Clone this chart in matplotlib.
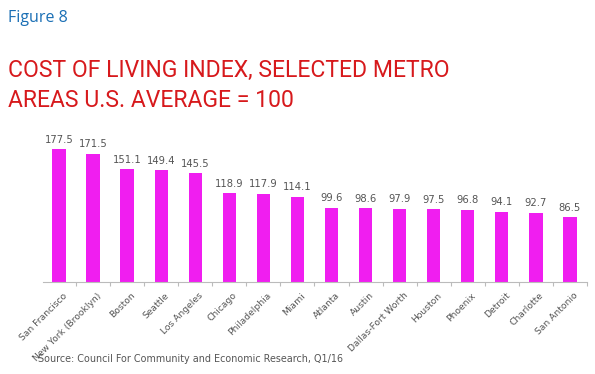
import matplotlib
matplotlib.use("Agg")
import matplotlib.pyplot as plt
import numpy as np

cities = ["San Francisco", "New York (Brooklyn)", "Boston", "Seattle", "Los Angeles",
          "Chicago", "Philadelphia", "Miami", "Atlanta", "Austin", "Dallas-Fort Worth",
          "Houston", "Phoenix", "Detroit", "Charlotte", "San Antonio"]
values = [177.5, 171.5, 151.1, 149.4, 145.5, 118.9, 117.9, 114.1, 99.6, 98.6, 97.9,
          97.5, 96.8, 94.1, 92.7, 86.5]

fig = plt.figure(figsize=(5.95, 3.74), dpi=100)
W, H = 595, 374
ax = fig.add_axes([43 / W, 1 - 282 / H, (587 - 43) / W, (282 - 130) / H])
x = np.arange(len(cities))
ax.bar(x, values, width=0.39, color="#F01EF0", zorder=2)
ax.set_xlim(-0.47, 15.5)
ax.set_ylim(0, 177.5 * 152 / 132.7)
for xi, v in zip(x, values):
    ax.text(xi, v + 6, f"{v:.1f}", ha="center", va="bottom", fontsize=7.2,
            color="#555555")
for s in ["top", "right", "left"]:
    ax.spines[s].set_visible(False)
ax.spines["bottom"].set_color("#BBBBBB")
ax.spines["bottom"].set_linewidth(0.8)
ax.set_yticks([])
ax.set_xticks(x + 0.5)
ax.set_xticklabels([])
ax.tick_params(axis="x", length=3, color="#BBBBBB", width=0.8)
for xi, c in zip(x, cities):
    ax.text(xi + 0.1, -12, c, rotation=45, ha="right", va="top", fontsize=6.6,
            color="#555555", rotation_mode="anchor")

fig.text(8 / W, 1 - 22 / H, "Figure 8", fontsize=11.5, color="#1A6FB5",
         family="Open Sans", va="baseline")
fig.text(8 / W, 1 - 77 / H, "COST OF LIVING INDEX, SELECTED METRO", fontsize=16.6,
         color="#D7191C", family="Roboto", va="baseline")
fig.text(8 / W, 1 - 107 / H, "AREAS U.S. AVERAGE = 100", fontsize=16.6,
         color="#D7191C", family="Roboto", va="baseline")
fig.text(38 / W, 1 - 362 / H, "Source: Council For Community and Economic Research, Q1/16",
         fontsize=6.95, color="#555555", va="baseline")

fig.savefig("out.png", dpi=100, facecolor="white")
